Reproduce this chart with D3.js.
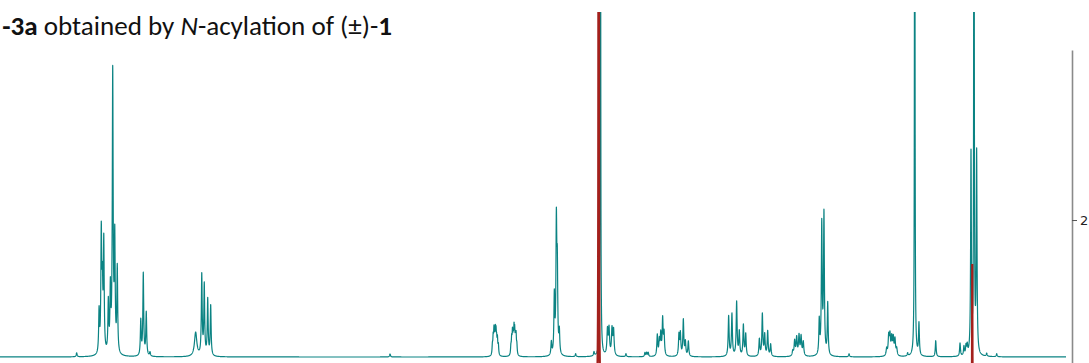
<!DOCTYPE html>
<html>
<head>
<meta charset="utf-8">
<script src="https://cdn.jsdelivr.net/npm/d3@7"></script>
<style>
  html, body { margin: 0; padding: 0; background: #fff; }
  svg { display: block; }
</style>
</head>
<body>
<svg id="chart" width="1089" height="363"></svg>
<script>
// 1H NMR trace: chemical shifts (ppm), peak intensities (a.u.) and half-widths (ppm)
const tealShift = [
  7.111,
  6.968, 6.954, 6.947, 6.938, 6.909, 6.896, 6.881, 6.868, 6.852,
  6.702, 6.686, 6.667, 6.643,
  6.352, 6.313, 6.297, 6.275, 6.256,
  5.112,
  4.459, 4.454, 4.449, 4.445, 4.440, 4.436, 4.432, 4.427, 4.421,
  4.341, 4.336, 4.331, 4.326, 4.321, 4.317, 4.312, 4.308, 4.303,
  4.083, 4.064, 4.051, 4.045, 4.032,
  3.928, 3.811, 3.770,
  3.725, 3.715, 3.696, 3.686,
  3.607, 3.486, 3.475, 3.465,
  3.407, 3.394, 3.385, 3.373, 3.364,
  3.269, 3.260, 3.241, 3.228, 3.209,
  2.952, 2.931, 2.901, 2.884, 2.858, 2.843,
  2.756, 2.737, 2.722, 2.703, 2.684,
  2.543, 2.531, 2.518, 2.503, 2.490, 2.476,
  2.374, 2.358, 2.344, 2.320,
  2.184,
  1.944, 1.931, 1.923, 1.912, 1.902, 1.891, 1.880,
  1.810, 1.765, 1.738, 1.631,
  1.476, 1.451, 1.438, 1.430,
  1.406, 1.387, 1.370,
  1.306, 1.242
];
const tealHeight = [
  4,
  42, 118, 60, 110, 50, 62, 280, 112, 85,
  35, 82, 43, 4,
  24, 80, 70, 56, 50,
  3,
  9, 16, 21, 14, 20, 18, 12, 15, 10,
  8, 15, 20, 16, 22, 19, 14, 17, 9,
  13, 58, 128, 80, 22,
  3, 4, 900,
  25, 26, 26, 25,
  3, 4, 4, 4,
  21, 15, 21, 36, 22,
  21, 22, 36, 14, 15,
  40, 42, 54, 24, 31, 22,
  17, 42, 21, 25, 12,
  5, 15, 18, 20, 19, 14,
  34, 130, 140, 52,
  3,
  7, 19, 19, 17, 17, 16, 7,
  3, 900, 32, 16,
  13, 9, 9, 9,
  200, 900, 200,
  3, 3
];
const tealWidth = [
  0.0032,
  0.0032, 0.0032, 0.0032, 0.0032, 0.0032, 0.0032, 0.0032, 0.0032, 0.0032,
  0.0032, 0.0032, 0.0032, 0.0032,
  0.0090, 0.0032, 0.0032, 0.0032, 0.0032,
  0.0032,
  0.0026, 0.0026, 0.0026, 0.0026, 0.0026, 0.0026, 0.0026, 0.0026, 0.0026,
  0.0026, 0.0026, 0.0026, 0.0026, 0.0026, 0.0026, 0.0026, 0.0026, 0.0026,
  0.0032, 0.0032, 0.0032, 0.0032, 0.0032,
  0.0032, 0.0032, 0.0016,
  0.0040, 0.0040, 0.0040, 0.0040,
  0.0032, 0.0032, 0.0032, 0.0032,
  0.0035, 0.0035, 0.0035, 0.0035, 0.0035,
  0.0035, 0.0035, 0.0035, 0.0035, 0.0035,
  0.0035, 0.0035, 0.0035, 0.0035, 0.0035, 0.0035,
  0.0035, 0.0035, 0.0035, 0.0035, 0.0035,
  0.0040, 0.0040, 0.0040, 0.0040, 0.0040, 0.0040,
  0.0032, 0.0032, 0.0032, 0.0032,
  0.0032,
  0.0040, 0.0040, 0.0040, 0.0040, 0.0040, 0.0040, 0.0040,
  0.0032, 0.0016, 0.0032, 0.0032,
  0.0032, 0.0032, 0.0032, 0.0032,
  0.0028, 0.0016, 0.0028,
  0.0032, 0.0032
];

// second trace, offset downwards so only its strongest lines enter the view
const redShift  = [3.781, 1.398];
const redHeight = [1600, 135];
const redWidth  = [0.0011, 0.0011];
const redOffset = -42;

// integral axis on the right
const axisTicks = [2];

const titleParts = [
  { text: "-3a", weight: "bold", style: "normal" },
  { text: " obtained by ", weight: "normal", style: "normal" },
  { text: "N", weight: "normal", style: "italic" },
  { text: "-acylation of (\u00b1)-", weight: "normal", style: "normal" },
  { text: "1", weight: "bold", style: "normal" }
];

const svg = d3.select("#chart");
const W = 1089, H = 363;

const x = d3.scaleLinear().domain([7.6, 0.8]).range([0, 1066]);
const y = d3.scaleLinear().domain([0, 345]).range([357, 12]);

// sum of Lorentzian lines, sampled on a fine grid plus every line centre
function trace(shifts, heights, widths, offset) {
  const [d0, d1] = x.domain();
  const n = 10000;
  const grid = d3.range(n + 1).map(i => d0 + (d1 - d0) * i / n).concat(shifts);
  grid.sort((a, b) => b - a);
  return grid.map(p => {
    let s = offset;
    for (let k = 0; k < shifts.length; k++) {
      const u = (p - shifts[k]) / widths[k];
      s += heights[k] / (1 + u * u);
    }
    return [p, s];
  });
}

svg.append("defs").append("clipPath").attr("id", "plotClip")
  .append("rect").attr("x", 0).attr("y", 12).attr("width", 1068).attr("height", H - 12);

const line = d3.line().x(d => x(d[0])).y(d => y(d[1]));

const plot = svg.append("g").attr("clip-path", "url(#plotClip)");

plot.append("path")
  .datum(trace(tealShift, tealHeight, tealWidth, 0))
  .attr("fill", "none")
  .attr("stroke", "#0b8383")
  .attr("stroke-width", 1.2)
  .attr("stroke-linejoin", "round")
  .attr("d", line);

plot.append("path")
  .datum(trace(redShift, redHeight, redWidth, redOffset))
  .attr("fill", "none")
  .attr("stroke", "#a3201c")
  .attr("stroke-width", 2.2)
  .attr("d", line);

// right-hand integral axis
const yr = d3.scaleLinear().domain([1.159, 3]).range([363, 50]);
const ax = svg.append("g")
  .attr("transform", "translate(1072,0)")
  .call(d3.axisRight(yr).tickValues(axisTicks).tickSize(5).tickSizeOuter(0).tickFormat(d3.format("d")));
ax.select(".domain").attr("stroke", "#8a8a8a").attr("stroke-width", 1.6);
ax.selectAll(".tick line").attr("stroke", "#555");
ax.selectAll(".tick text")
  .attr("x", 8)
  .attr("fill", "#222")
  .style("font-family", "'DejaVu Sans', sans-serif")
  .style("font-size", "13px");

// title spanning x = 1 .. 392
const title = svg.append("text")
  .attr("y", 35)
  .style("font-family", "Calibri, Carlito, Lato, 'Open Sans', sans-serif")
  .style("font-size", "21px")
  .attr("fill", "#111");
title.selectAll("tspan").data(titleParts).join("tspan")
  .attr("font-weight", d => d.weight)
  .attr("font-style", d => d.style)
  .text(d => d.text);
const tw0 = title.node().getComputedTextLength();
title.style("font-size", (21 * 390 / tw0).toFixed(2) + "px");
const tw = title.node().getComputedTextLength();
title.attr("x", 392 - tw);
</script>
</body>
</html>
